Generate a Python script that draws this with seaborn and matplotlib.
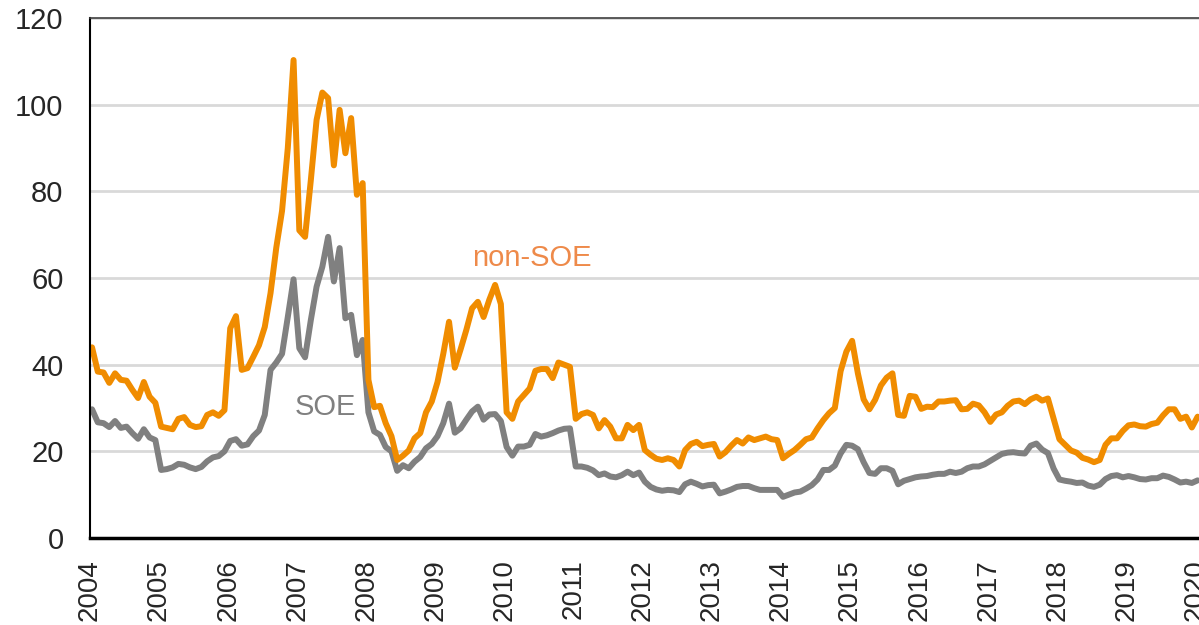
import numpy as np
import pandas as pd
import matplotlib
matplotlib.use("Agg")
import matplotlib.pyplot as plt
import seaborn as sns

# ---- data (monthly, starting Jan 2004) ----
start_year = 2004
non_soe = [
    44, 38.4, 38.2, 35.8, 38, 36.5, 36.3, 34.2, 32.3, 36, 32.6, 31.2,
    25.7, 25.4, 25.1, 27.5, 27.9, 26.1, 25.6, 25.8, 28.4, 29, 28.2, 29.5,
    48.4, 51.2, 38.8, 39.2, 41.8, 44.5, 48.7, 56.5, 67, 75.5, 90, 110.3,
    71, 69.5, 82.6, 96.5, 102.8, 101.5, 86, 98.8, 88.8, 96.9, 79.2, 81.9,
    36.5, 30.2, 30.5, 26.5, 23.5, 18, 19, 20.2, 23, 24.2, 29, 31.5,
    36, 42.5, 49.9, 39.3, 43.5, 48, 53, 54.5, 51, 55, 58.4, 54,
    29, 27.5, 31.5, 33, 34.5, 38.6, 39, 39, 36.9, 40.5, 40, 39.5,
    27.5, 28.6, 29, 28.4, 25.3, 27.2, 25.7, 23, 23, 26.1, 24.9, 26.1,
    20.3, 19.2, 18.3, 18, 18.4, 18, 16.5, 20.3, 21.7, 22.2, 21.2, 21.5,
    21.7, 18.8, 19.8, 21.3, 22.6, 21.8, 23.2, 22.6, 23, 23.4, 22.8, 22.6,
    18.4, 19.4, 20.3, 21.5, 22.8, 23.2, 25.3, 27.2, 28.8, 30, 38.5, 43,
    45.5, 38, 32, 29.7, 31.9, 35.2, 37, 38, 28.4, 28.2, 32.8, 32.6,
    29.8, 30.3, 30.2, 31.5, 31.5, 31.7, 31.8, 29.7, 29.8, 31, 30.6, 29,
    26.8, 28.5, 29, 30.5, 31.5, 31.7, 30.9, 32, 32.6, 31.7, 32.2, 27.5,
    22.8, 21.5, 20.2, 19.7, 18.5, 18.1, 17.5, 18, 21.5, 23, 23, 24.7,
    26, 26.2, 25.8, 25.7, 26.3, 26.6, 28.3, 29.7, 29.7, 27.5, 28, 25.5, 28,
]
soe = [
    29.7, 26.7, 26.5, 25.6, 27, 25.4, 25.7, 24.2, 22.9, 25.1, 23.2, 22.6,
    15.7, 15.9, 16.3, 17.1, 16.9, 16.3, 15.9, 16.4, 17.7, 18.6, 18.9, 20,
    22.4, 22.8, 21.3, 21.6, 23.5, 24.8, 28.4, 38.8, 40.5, 42.5, 51, 59.7,
    43.8, 41.7, 50.3, 58, 62.6, 69.5, 59.2, 66.9, 50.7, 51.5, 42.2, 45.7,
    29, 24.6, 23.8, 21, 20, 15.5, 16.8, 16.1, 17.6, 18.7, 20.7, 21.7,
    23.5, 26.5, 31, 24.3, 25.3, 27.3, 29.2, 30.3, 27.3, 28.5, 28.6, 27,
    21, 19, 21.1, 21.1, 21.5, 24, 23.4, 23.7, 24.2, 24.8, 25.2, 25.3,
    16.5, 16.5, 16.2, 15.6, 14.5, 14.9, 14.2, 14, 14.5, 15.3, 14.5, 15.1,
    13, 11.8, 11.2, 10.9, 11.1, 11, 10.6, 12.4, 13, 12.5, 11.9, 12.2,
    12.3, 10.3, 10.7, 11.2, 11.8, 12, 12, 11.5, 11.1, 11.1, 11.1, 11.1,
    9.5, 10, 10.5, 10.7, 11.4, 12.2, 13.5, 15.7, 15.7, 16.7, 19.5, 21.5,
    21.3, 20.5, 17.5, 15, 14.8, 16.1, 16.1, 15.5, 12.4, 13.2, 13.6, 14,
    14.2, 14.3, 14.6, 14.8, 14.8, 15.3, 15, 15.3, 16.1, 16.5, 16.5, 17,
    17.8, 18.6, 19.4, 19.7, 19.8, 19.6, 19.5, 21.3, 21.8, 20.4, 19.6, 16,
    13.5, 13.2, 13, 12.7, 12.8, 12.1, 11.8, 12.3, 13.6, 14.3, 14.5, 14,
    14.3, 14, 13.6, 13.5, 13.8, 13.8, 14.4, 14.1, 13.5, 12.8, 13, 12.7, 13.3,
]
year_ticks = list(range(2004, 2021))
y_ticks = [0, 20, 40, 60, 80, 100, 120]
series_names = ["SOE", "non-SOE"]
colors = {"non-SOE": "#F08C00", "SOE": "#808080"}

n = len(non_soe)
t = start_year + (np.arange(n) + 0.35) / 12.0
df = pd.DataFrame({
    "t": np.concatenate([t, t]),
    "value": soe + non_soe,
    "group": ["SOE"] * n + ["non-SOE"] * n,
})

sns.set_style("white")
plt.rcParams["font.family"] = ["Liberation Sans", "DejaVu Sans"]

W, H = 1199, 625
fig = plt.figure(figsize=(W / 100, H / 100), dpi=100)
ax = fig.add_axes([90 / W, 1 - 538 / H, 1 - 90 / W, (538 - 18) / H])

ax.yaxis.grid(True, color="#d9d9d9", linewidth=2)
ax.set_axisbelow(True)

sns.lineplot(data=df, x="t", y="value", hue="group", hue_order=series_names,
             palette=colors, linewidth=4.3, legend=False, ax=ax)

ax.set_xlim(start_year, start_year + (W - 90) / 69.1)
ax.set_ylim(0, 120)
ax.set_yticks(y_ticks)
ax.set_xticks(year_ticks)
ax.set_xticklabels([str(y) for y in year_ticks], rotation=90)
ax.tick_params(axis="y", length=0, pad=19, labelsize=21)
ax.tick_params(axis="x", length=0, pad=15, labelsize=20)
ax.set_xlabel("")
ax.set_ylabel("")

ax.spines["right"].set_visible(False)
ax.spines["left"].set_color("#000000")
ax.spines["left"].set_linewidth(1.5)
ax.spines["bottom"].set_color("#000000")
ax.spines["bottom"].set_linewidth(2.5)
ax.spines["top"].set_color("#404040")
ax.spines["top"].set_linewidth(1.2)

ax.text(2010.40, 64.6, "non-SOE", color="#EE8A4A", fontsize=21,
        ha="center", va="center")
ax.text(2007.40, 30.2, "SOE", color="#808080", fontsize=21,
        ha="center", va="center")

fig.savefig("out.png", dpi=100)
